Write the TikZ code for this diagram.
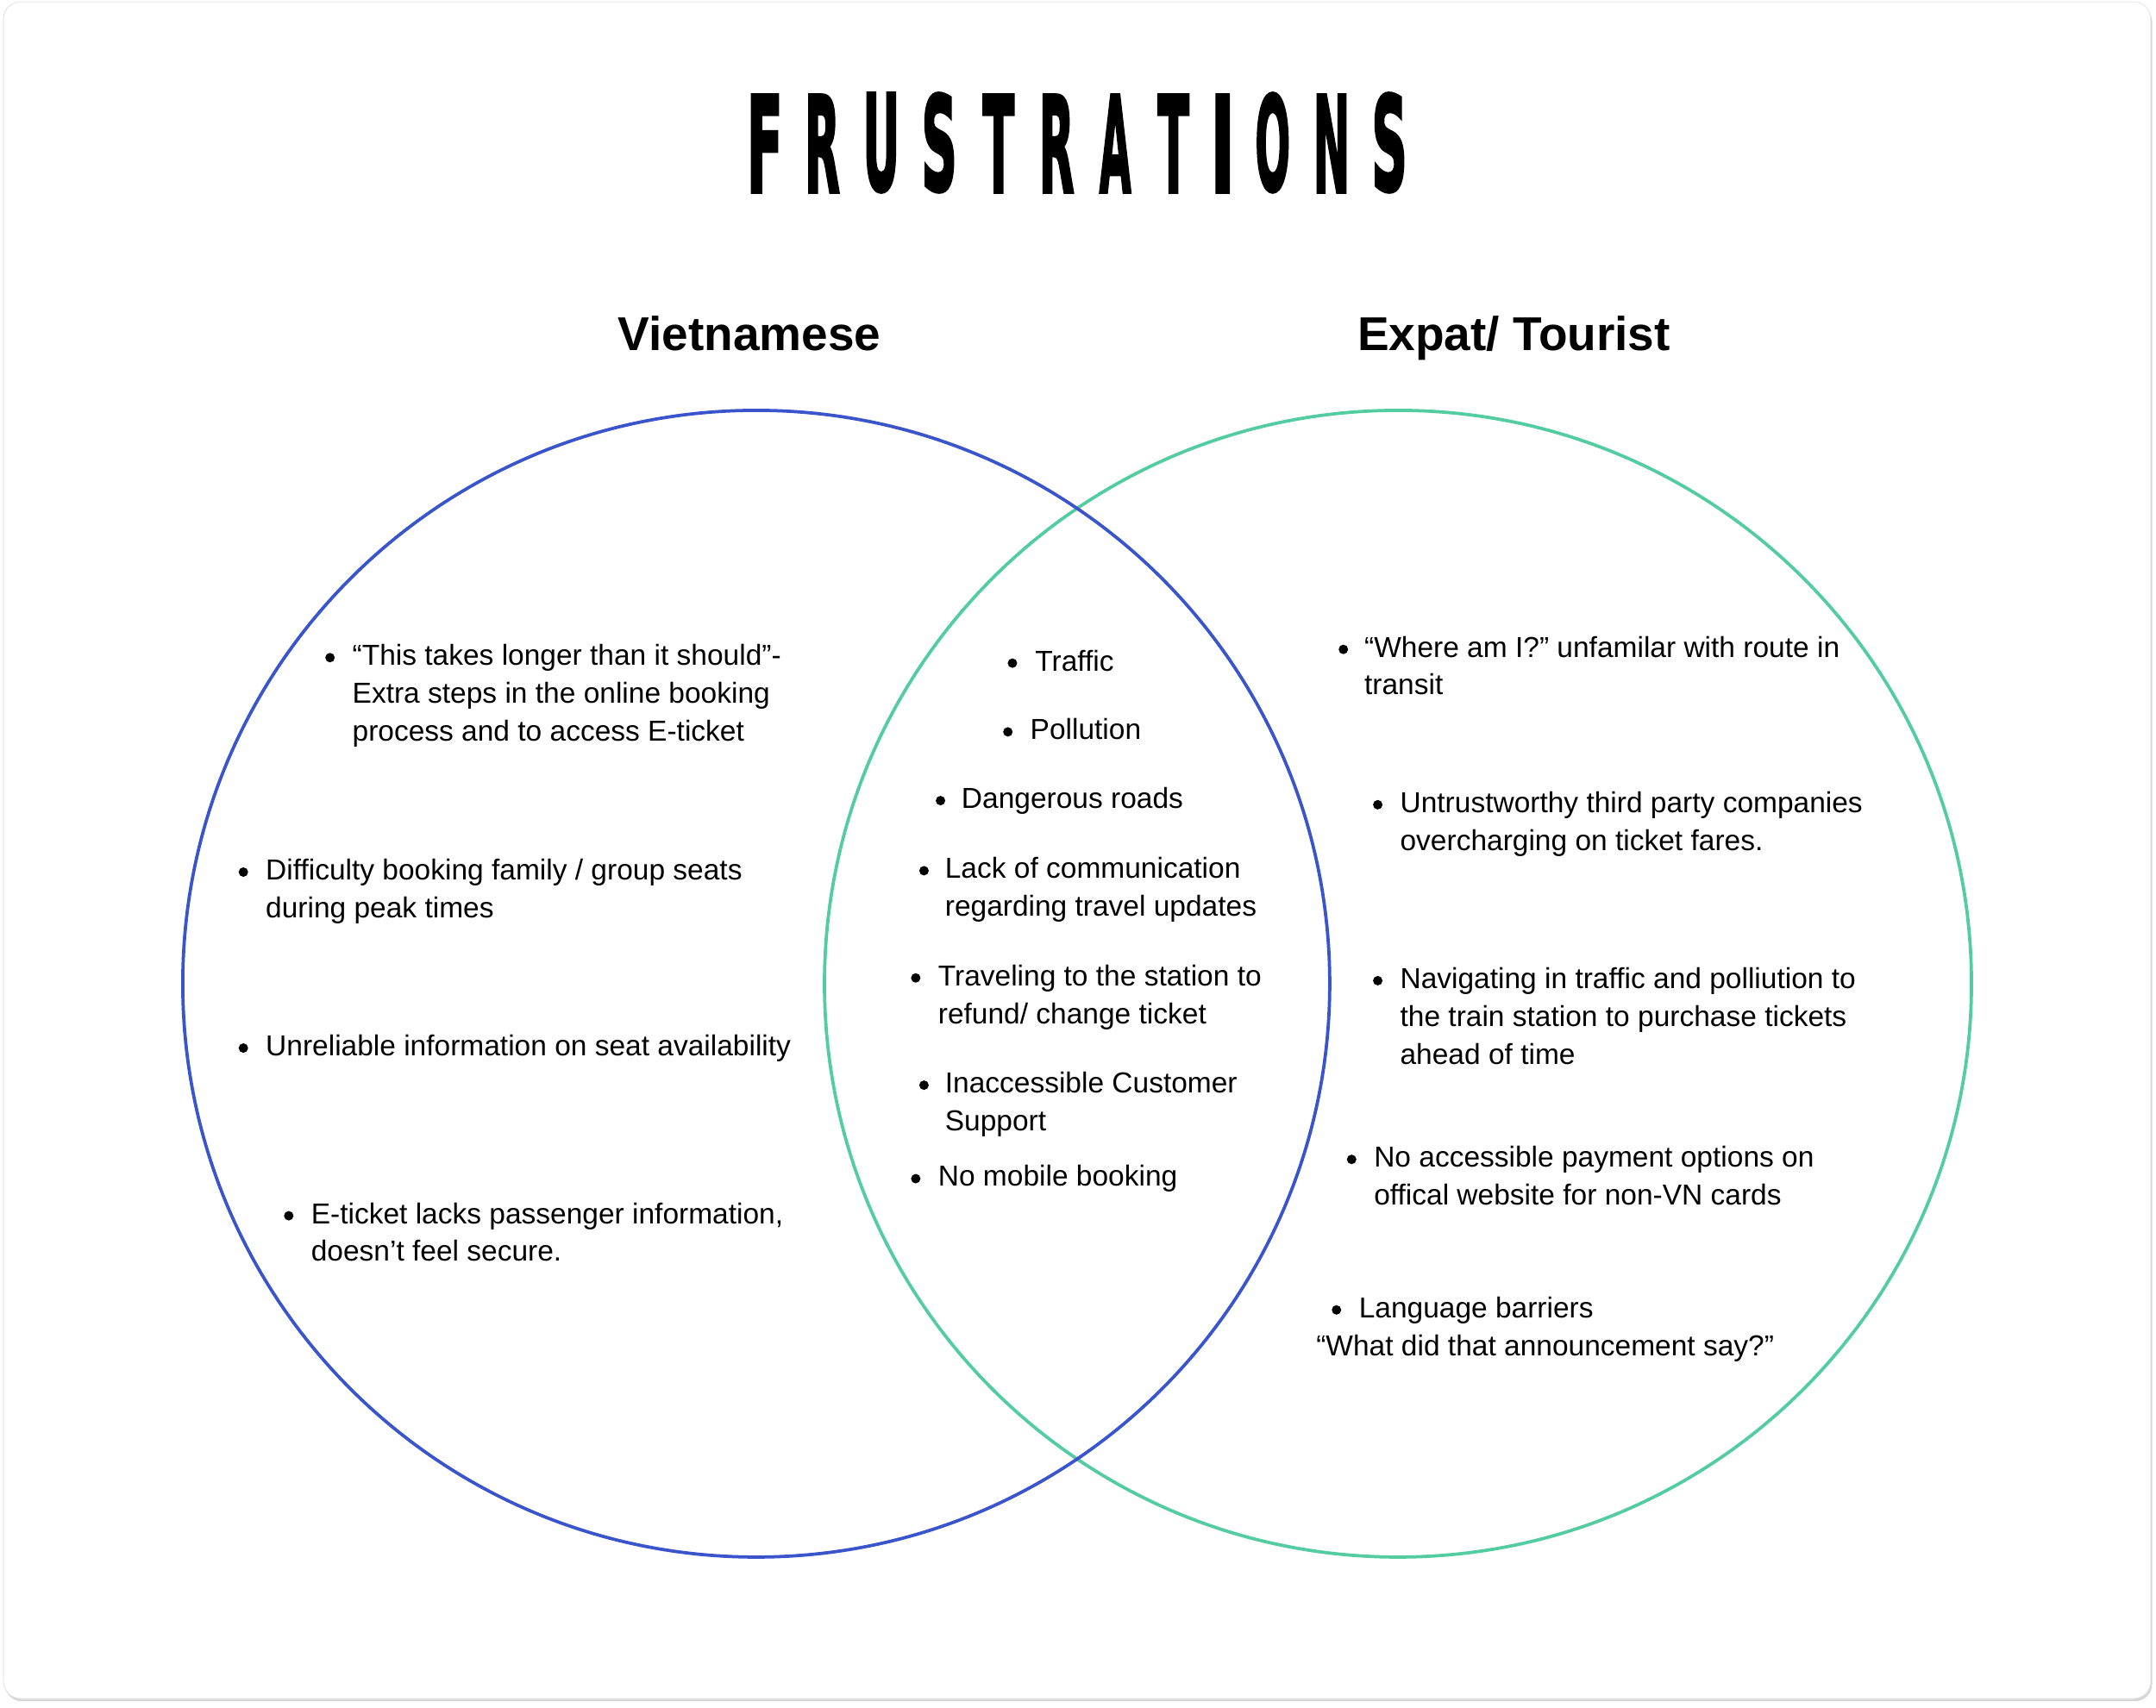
\documentclass[tikz,border=0pt]{standalone}
\usepackage{graphicx}
\usepackage{fontspec}
\setmainfont{Liberation Sans}
\newfontfamily\titlefont{DejaVu Sans}[BoldFeatures={FakeBold=3}]
\definecolor{vnblue}{RGB}{58,84,204}
\definecolor{exgreen}{RGB}{82,204,160}
\newcommand\ttlletter[2]{\resizebox{#1}{44.8pt}{\titlefont\bfseries #2}}
\begin{document}
\begin{tikzpicture}[x=0.63776pt,y=-0.63776pt,
  txt/.style={anchor=base west,inner sep=0pt,font=\fontsize{13.4}{17.5}\selectfont},
  head/.style={anchor=base,inner sep=0pt,font=\fontsize{22}{26}\selectfont\bfseries},
  ttl/.style={anchor=south,inner sep=0pt},
  dot/.style={circle,fill=black,inner sep=0pt,minimum size=4.4pt},
  venn/.style={circle,draw,line width=1.5pt,inner sep=0pt,minimum size=532pt}]
\useasboundingbox (0,0) rectangle (1568,1242);
% frame
\fill[black!16,rounded corners=8pt] (3.4,3.2) rectangle (1565.2,1237.6);
\filldraw[fill=white,draw=black!10,line width=0.4pt,rounded corners=8pt] (2.5,1.3) rectangle (1564.2,1235.6);
% title
\node[ttl] (t1) at (556.2,139.9) {\ttlletter{16.7pt}{F}};
\node[ttl] (t2) at (598.0,139.9) {\ttlletter{16.3pt}{R}};
\node[ttl] (t3) at (640.9,139.9) {\ttlletter{17pt}{U}};
\node[ttl] (t4) at (683.1,139.9) {\ttlletter{16.5pt}{S}};
\node[ttl] (t5) at (726.2,139.9) {\ttlletter{14.6pt}{T}};
\node[ttl] (t6) at (768.4,139.9) {\ttlletter{16.3pt}{R}};
\node[ttl] (t7) at (811.1,139.9) {\ttlletter{14.6pt}{A}};
\node[ttl] (t8) at (853.4,139.9) {\ttlletter{14.6pt}{T}};
\node[ttl] (t9) at (889.2,139.9) {\ttlletter{11.5pt}{I}};
\node[ttl] (t10) at (925.6,139.9) {\ttlletter{16.2pt}{O}};
\node[ttl] (t11) at (968.4,139.9) {\ttlletter{17pt}{N}};
\node[ttl] (t12) at (1010.5,139.9) {\ttlletter{16.5pt}{S}};
% headings
\node[head] (hvn) at (545,255) {Vietnamese};
\node[head] (hex) at (1101,255) {Expat/ Tourist};
% circles
\node[venn,draw=exgreen] (cex) at (1016.7,715.6) {};
\node[venn,draw=vnblue] (cvn) at (550,715.6) {};
% left
\node[dot] (bl1) at (240,478.4) {};
\node[txt] (l1a) at (256,484) {“This takes longer than it should”-};
\node[txt] (l1b) at (256,511.5) {Extra steps in the online booking};
\node[txt] (l1c) at (256,539) {process and to access E-ticket};
\node[dot] (bl2) at (177,634.4) {};
\node[txt] (l2a) at (193,640) {Difficulty booking family / group seats};
\node[txt] (l2b) at (193,667.5) {during peak times};
\node[dot] (bl3) at (177,762.4) {};
\node[txt] (l3a) at (193,768) {Unreliable information on seat availability};
\node[dot] (bl4) at (210,884.4) {};
\node[txt] (l4a) at (226,890) {E-ticket lacks passenger information,};
\node[txt] (l4b) at (226,917.5) {doesn’t feel secure.};
% middle
\node[dot] (bm1) at (736.3,482.4) {};
\node[txt] (m1a) at (752.6,488) {Traffic};
\node[dot] (bm2) at (733,532.4) {};
\node[txt] (m2a) at (749,538) {Pollution};
\node[dot] (bm3) at (684,582.4) {};
\node[txt] (m3a) at (699,588) {Dangerous roads};
\node[dot] (bm4) at (672,633.4) {};
\node[txt] (m4a) at (687,639) {Lack of communication};
\node[txt] (m4b) at (687,666.5) {regarding travel updates};
\node[dot] (bm5) at (666,711.4) {};
\node[txt] (m5a) at (682,717) {Traveling to the station to};
\node[txt] (m5b) at (682,744.5) {refund/ change ticket};
\node[dot] (bm6) at (672,789.4) {};
\node[txt] (m6a) at (687,795) {Inaccessible Customer};
\node[txt] (m6b) at (687,822.5) {Support};
\node[dot] (bm7) at (666,857.4) {};
\node[txt] (m7a) at (682,863) {No mobile booking};
% right
\node[dot] (br1) at (977,472.4) {};
\node[txt] (r1a) at (992,478) {“Where am I?” unfamilar with route in};
\node[txt] (r1b) at (992,505.5) {transit};
\node[dot] (br2) at (1002,585.4) {};
\node[txt] (r2a) at (1018,591) {Untrustworthy third party companies};
\node[txt] (r2b) at (1018,618.5) {overcharging on ticket fares.};
\node[dot] (br3) at (1002,713.4) {};
\node[txt] (r3a) at (1018,719) {Navigating in traffic and polliution to};
\node[txt] (r3b) at (1018,746.5) {the train station to purchase tickets};
\node[txt] (r3c) at (1018,774) {ahead of time};
\node[dot] (br4) at (983,843.4) {};
\node[txt] (r4a) at (999,849) {No accessible payment options on};
\node[txt] (r4b) at (999,876.5) {offical website for non-VN cards};
\node[dot] (br5) at (972,952.9) {};
\node[txt] (r5a) at (988,958.5) {Language barriers};
\node[txt] (r5b) at (957,986) {“What did that announcement say?”};
\end{tikzpicture}
\end{document}
